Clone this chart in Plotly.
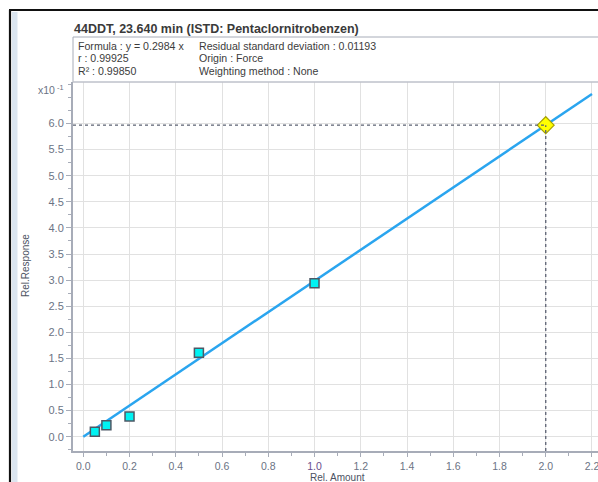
import plotly.graph_objects as go

# Calibration standards (relative amount vs relative response)
rel_amount = [0.05, 0.1, 0.2, 0.5, 1.0]
rel_response = [0.0096, 0.022, 0.0387, 0.161, 0.294]

# Sample result on the curve
sample_amount = [2.0]
sample_response = [0.5968]

# Regression (forced through origin)
slope = 0.2984
fit_x = [0.0, 2.2]

title_text = "44DDT, 23.640 min (ISTD: Pentaclornitrobenzen)"
info_left = ["Formula : y = 0.2984 x", "r : 0.99925", "R\u00b2 : 0.99850"]
info_right = ["Residual standard deviation : 0.01193", "Origin : Force", "Weighting method : None"]

x_ticks = [round(0.2 * i, 1) for i in range(12)]
y_ticks = [round(0.5 * i, 1) for i in range(13)]

# response axis shown in units of 1e-1
scale = 10.0

W, H = 598, 482
L, R, T, B = 73, 0, 82, 31
x_range = [-0.0445, 2.226]
y_range = [-0.274, 6.795]

def px(x):
    return (x - L) / (W - L - R)

def py(y):
    return (H - B - y) / (H - T - B)

FONT = "Liberation Sans, Arial, sans-serif"
TICK_COLOR = "#6b7384"
AXIS_COLOR = "#a7acb8"
GRID_COLOR = "#e1e1e1"

fig = go.Figure()

fig.add_trace(go.Scatter(
    x=fit_x, y=[slope * x * scale for x in fit_x],
    mode="lines", line=dict(color="#2aa5ef", width=2.5),
    hoverinfo="skip", showlegend=False,
))
fig.add_trace(go.Scatter(
    x=rel_amount, y=[v * scale for v in rel_response],
    mode="markers",
    marker=dict(symbol="square", size=9, color="#00f3f3",
                line=dict(color="#4d5866", width=1.5)),
    showlegend=False,
))
fig.add_trace(go.Scatter(
    x=sample_amount, y=[v * scale for v in sample_response],
    mode="markers",
    marker=dict(symbol="diamond", size=13, color="#ffff00",
                line=dict(color="#a8a200", width=1.2)),
    showlegend=False,
))

shapes = []
# dashed guides to the sample point
sx, sy = sample_amount[0], sample_response[0] * scale
shapes.append(dict(type="line", xref="x", yref="y", x0=x_range[0], x1=sx, y0=sy, y1=sy,
                   line=dict(color="#5b6172", width=1.3, dash="3px,3px"), layer="above"))
shapes.append(dict(type="line", xref="x", yref="y", x0=sx, x1=sx, y0=y_range[0], y1=sy,
                   line=dict(color="#5b6172", width=1.3, dash="3px,3px"), layer="above"))
# info box around regression statistics
shapes.append(dict(type="rect", xref="paper", yref="paper", x0=0, x1=px(W + 5), y0=1, y1=py(37),
                   line=dict(color="#a7acb8", width=1), fillcolor="rgba(0,0,0,0)"))
# top border of the plot area
shapes.append(dict(type="line", xref="paper", yref="paper", x0=0, x1=1, y0=1, y1=1,
                   line=dict(color="#c9ccd4", width=1)))
# window frame
shapes.append(dict(type="rect", xref="paper", yref="paper", x0=px(12), x1=px(17.5), y0=py(H + 2), y1=py(12),
                   line=dict(width=0), fillcolor="#dbe5ef"))
shapes.append(dict(type="line", xref="paper", yref="paper", x0=px(10), x1=px(10), y0=py(H + 2), y1=py(10),
                   line=dict(color="#111111", width=2.2)))
shapes.append(dict(type="line", xref="paper", yref="paper", x0=px(9), x1=px(W + 2), y0=py(10), y1=py(10),
                   line=dict(color="#111111", width=2.2)))

annotations = []
annotations.append(dict(xref="paper", yref="paper", x=px(72), y=py(29.5), xanchor="left", yanchor="middle",
                        text="<b>" + title_text + "</b>", showarrow=False,
                        font=dict(family=FONT, size=12.5, color="#3a3a3a")))
for i, (a, b) in enumerate(zip(info_left, info_right)):
    yy = py(46 + 12.3 * i)
    annotations.append(dict(xref="paper", yref="paper", x=px(76), y=yy, xanchor="left", yanchor="middle",
                            text=a, showarrow=False, font=dict(family=FONT, size=10.6, color="#3c3c3c")))
    annotations.append(dict(xref="paper", yref="paper", x=px(197), y=yy, xanchor="left", yanchor="middle",
                            text=b, showarrow=False, font=dict(family=FONT, size=10.6, color="#3c3c3c")))
annotations.append(dict(xref="paper", yref="paper", x=px(66), y=py(89), xanchor="right", yanchor="middle",
                        text="x10<sup> -1</sup>", showarrow=False,
                        font=dict(family=FONT, size=10.5, color=TICK_COLOR)))
annotations.append(dict(xref="paper", yref="paper", x=px(25), y=py(266), xanchor="center", yanchor="middle",
                        text="Rel.Response", textangle=-90, showarrow=False,
                        font=dict(family=FONT, size=10, color="#4c5262")))
annotations.append(dict(xref="paper", yref="paper", x=px(337), y=py(477), xanchor="center", yanchor="middle",
                        text="Rel. Amount", showarrow=False,
                        font=dict(family=FONT, size=10, color="#4c5262")))

x_text = []
for v in x_ticks:
    s = f"{v:.1f}"
    x_text.append(f"<span style='color:#6a4c8c'>{s}</span>" if v == 1.0 else s)

fig.update_layout(
    width=W, height=H,
    margin=dict(l=L, r=R, t=T, b=B, pad=0),
    paper_bgcolor="white", plot_bgcolor="white",
    shapes=shapes, annotations=annotations,
    font=dict(family=FONT, size=10, color=TICK_COLOR),
    xaxis=dict(
        range=x_range, tickmode="array", tickvals=x_ticks, ticktext=x_text,
        showgrid=True, gridcolor=GRID_COLOR, gridwidth=1, zeroline=False,
        showline=True, linecolor=AXIS_COLOR, linewidth=2,
        ticks="outside", ticklen=4, tickcolor=AXIS_COLOR, tickwidth=1,
        ticklabeloverflow="allow",
        minor=dict(tickmode="linear", tick0=0, dtick=0.1, ticks="outside", ticklen=3,
                   tickcolor=AXIS_COLOR, showgrid=False),
        tickfont=dict(family=FONT, size=10.5, color=TICK_COLOR),
        fixedrange=True,
    ),
    yaxis=dict(
        range=y_range, tickmode="array", tickvals=y_ticks, ticktext=[f"{v:.1f}" for v in y_ticks],
        showgrid=True, gridcolor=GRID_COLOR, gridwidth=1, zeroline=False,
        showline=True, linecolor=AXIS_COLOR, linewidth=2,
        ticks="outside", ticklen=5, tickcolor=AXIS_COLOR, tickwidth=1,
        minor=dict(tickmode="linear", tick0=0, dtick=0.25, ticks="outside", ticklen=3,
                   tickcolor=AXIS_COLOR, showgrid=False),
        tickfont=dict(family=FONT, size=11, color=TICK_COLOR),
        fixedrange=True,
    ),
)

fig.write_html("out.html")
